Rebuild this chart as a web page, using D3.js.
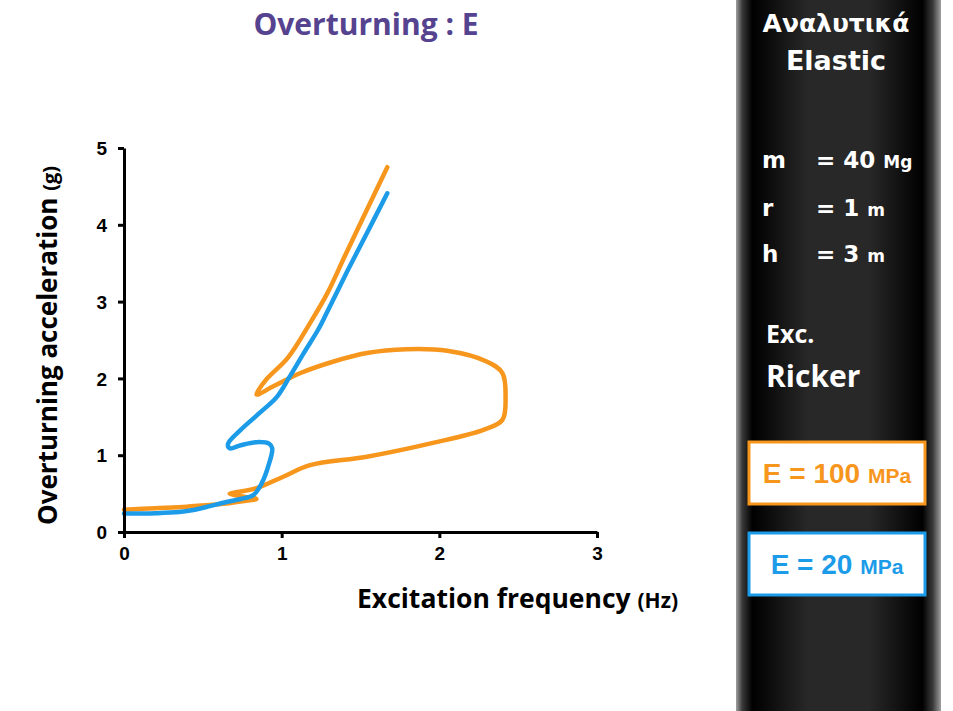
<!DOCTYPE html>
<html>
<head>
<meta charset="utf-8">
<script src="https://cdn.jsdelivr.net/npm/d3@7"></script>
<style>
  html, body { margin: 0; padding: 0; background: #fff; }
  svg { display: block; }
</style>
</head>
<body>
<svg id="chart" width="953" height="711"></svg>
<script>
// ---- data ----
const xTicks = [0, 1, 2, 3];
const yTicks = [0, 1, 2, 3, 4, 5];

// E = 100 MPa (orange), in path order
const e100Freq = [0.00, 0.20, 0.40, 0.60, 0.75, 0.84, 0.70, 0.67, 0.72, 0.84, 1.01, 1.18, 1.54, 1.96, 2.28, 2.40, 2.42, 2.40, 2.30, 2.05, 1.79, 1.54, 1.33, 1.12, 0.95, 0.84, 0.90, 1.04, 1.18, 1.29, 1.40, 1.53, 1.67];
const e100Acc  = [0.29, 0.31, 0.33, 0.36, 0.40, 0.43, 0.48, 0.50, 0.52, 0.57, 0.72, 0.87, 0.98, 1.16, 1.33, 1.46, 1.76, 2.07, 2.22, 2.36, 2.38, 2.33, 2.22, 2.07, 1.90, 1.79, 1.98, 2.27, 2.72, 3.11, 3.59, 4.15, 4.75];

// E = 20 MPa (blue), in path order
const e20Freq = [0.00, 0.20, 0.35, 0.45, 0.55, 0.65, 0.74, 0.82, 0.87, 0.92, 0.94, 0.92, 0.84, 0.74, 0.67, 0.66, 0.74, 0.86, 0.97, 1.05, 1.14, 1.23, 1.29, 1.42, 1.55, 1.67];
const e20Acc  = [0.24, 0.245, 0.26, 0.29, 0.34, 0.39, 0.43, 0.48, 0.62, 0.89, 1.09, 1.15, 1.17, 1.13, 1.09, 1.15, 1.33, 1.55, 1.76, 2.02, 2.33, 2.63, 2.87, 3.41, 3.93, 4.41];

const seriesColors = { e100: "#F7961C", e20: "#1C9BE8" };

// ---- drawing ----
const svg = d3.select("#chart");
svg.append("rect").attr("width", 953).attr("height", 711).attr("fill", "#fff");

const x = d3.scaleLinear().domain([0, 3]).range([124, 597]);
const y = d3.scaleLinear().domain([0, 5]).range([532, 148]);

const labelFont = "'Open Sans', Lato, sans-serif";

// title
svg.append("text")
  .attr("x", 366).attr("y", 35)
  .attr("text-anchor", "middle")
  .attr("font-family", labelFont)
  .attr("font-weight", "bold")
  .attr("font-size", 30)
  .attr("fill", "#55438F")
  .text("Overturning : E");

// lines
const line = d3.line()
  .x(d => x(d[0])).y(d => y(d[1]))
  .curve(d3.curveCatmullRom.alpha(0.5));

const e100 = e100Freq.map((f, i) => [f, e100Acc[i]]);
const e20 = e20Freq.map((f, i) => [f, e20Acc[i]]);

svg.append("path").datum(e100)
  .attr("d", line).attr("fill", "none")
  .attr("stroke", seriesColors.e100).attr("stroke-width", 4.5)
  .attr("stroke-linecap", "round").attr("stroke-linejoin", "round");

svg.append("path").datum(e20)
  .attr("d", line).attr("fill", "none")
  .attr("stroke", seriesColors.e20).attr("stroke-width", 4.5)
  .attr("stroke-linecap", "round").attr("stroke-linejoin", "round");

// axes
const xAxis = d3.axisBottom(x).tickValues(xTicks).tickFormat(d3.format("d")).tickSize(6).tickSizeOuter(0).tickPadding(9);
const yAxis = d3.axisLeft(y).tickValues(yTicks).tickFormat(d3.format("d")).tickSize(6).tickSizeOuter(0).tickPadding(11);

const gx = svg.append("g").attr("transform", `translate(0,${y(0)})`).call(xAxis);
const gy = svg.append("g").attr("transform", `translate(${x(0)},0)`).call(yAxis);

[gx, gy].forEach(g => {
  g.select(".domain").attr("stroke", "#000").attr("stroke-width", 3);
  g.selectAll(".tick line").attr("stroke", "#000").attr("stroke-width", 3);
  g.selectAll(".tick text")
    .attr("font-family", "'Liberation Sans', Arial, sans-serif")
    .attr("font-weight", "bold")
    .attr("font-size", 19)
    .attr("fill", "#000");
});
gy.selectAll(".tick text").attr("dy", "0.35em");

// axis titles
const yl = svg.append("text")
  .attr("transform", "translate(57,525) rotate(-90)")
  .attr("font-family", labelFont)
  .attr("font-weight", "bold")
  .attr("fill", "#000");
yl.append("tspan").attr("font-size", 26).text("Overturning acceleration ");
yl.append("tspan").attr("font-size", 20).text("(g)");

const xl = svg.append("text")
  .attr("x", 357).attr("y", 608)
  .attr("font-family", labelFont)
  .attr("font-weight", "bold")
  .attr("fill", "#000");
xl.append("tspan").attr("font-size", 26.5).text("Excitation frequency ");
xl.append("tspan").attr("font-size", 21).text("(Hz)");

// right dark panel
const defs = svg.append("defs");
const grad = defs.append("linearGradient").attr("id", "panelGrad")
  .attr("x1", "0%").attr("x2", "100%").attr("y1", "0%").attr("y2", "0%");
[[0, "#a0a0a0"], [3, "#3a3a3a"], [8, "#000"], [35, "#282828"], [65, "#282828"], [91, "#000"], [96, "#3a3a3a"], [100, "#a0a0a0"]]
  .forEach(([o, c]) => grad.append("stop").attr("offset", o + "%").attr("stop-color", c));

svg.append("rect").attr("x", 736).attr("y", 0).attr("width", 205).attr("height", 711)
  .attr("fill", "url(#panelGrad)");

const panelFont = "'DejaVu Sans', Verdana, sans-serif";
function wtext(xx, yy, size, str, anchor, font) {
  return svg.append("text").attr("x", xx).attr("y", yy)
    .attr("text-anchor", anchor || "start")
    .attr("font-family", font || panelFont)
    .attr("font-weight", "bold").attr("font-size", size)
    .attr("fill", "#fff").text(str);
}
wtext(836, 32, 25, "Αναλυτικά", "middle");
wtext(836, 70, 27, "Elastic", "middle");

function param(yy, sym, val, unit) {
  wtext(762, yy, 23, sym);
  const t = svg.append("text").attr("x", 816).attr("y", yy)
    .attr("font-family", panelFont).attr("font-weight", "bold").attr("fill", "#fff");
  t.append("tspan").attr("font-size", 23).text(val + " ");
  t.append("tspan").attr("font-size", 17).text(unit);
}
param(168, "m", "= 40", "Mg");
param(216, "r", "= 1", "m");
param(262, "h", "= 3", "m");

wtext(766, 343, 25, "Exc.", "start", labelFont);
wtext(766, 387, 30, "Ricker", "start", labelFont);

// legend boxes
function legendBox(yTop, color, val) {
  svg.append("rect").attr("x", 749).attr("y", yTop).attr("width", 176).attr("height", 62)
    .attr("fill", "#fff").attr("stroke", color).attr("stroke-width", 3);
  const t = svg.append("text").attr("x", 837).attr("y", yTop + 41)
    .attr("text-anchor", "middle")
    .attr("font-family", "'Liberation Sans', Arial, sans-serif")
    .attr("font-weight", "bold").attr("fill", color);
  t.append("tspan").attr("font-size", 28).text("E = " + val + " ");
  t.append("tspan").attr("font-size", 21).text("MPa");
}
legendBox(442, seriesColors.e100, "100");
legendBox(533, seriesColors.e20, "20");
</script>
</body>
</html>
